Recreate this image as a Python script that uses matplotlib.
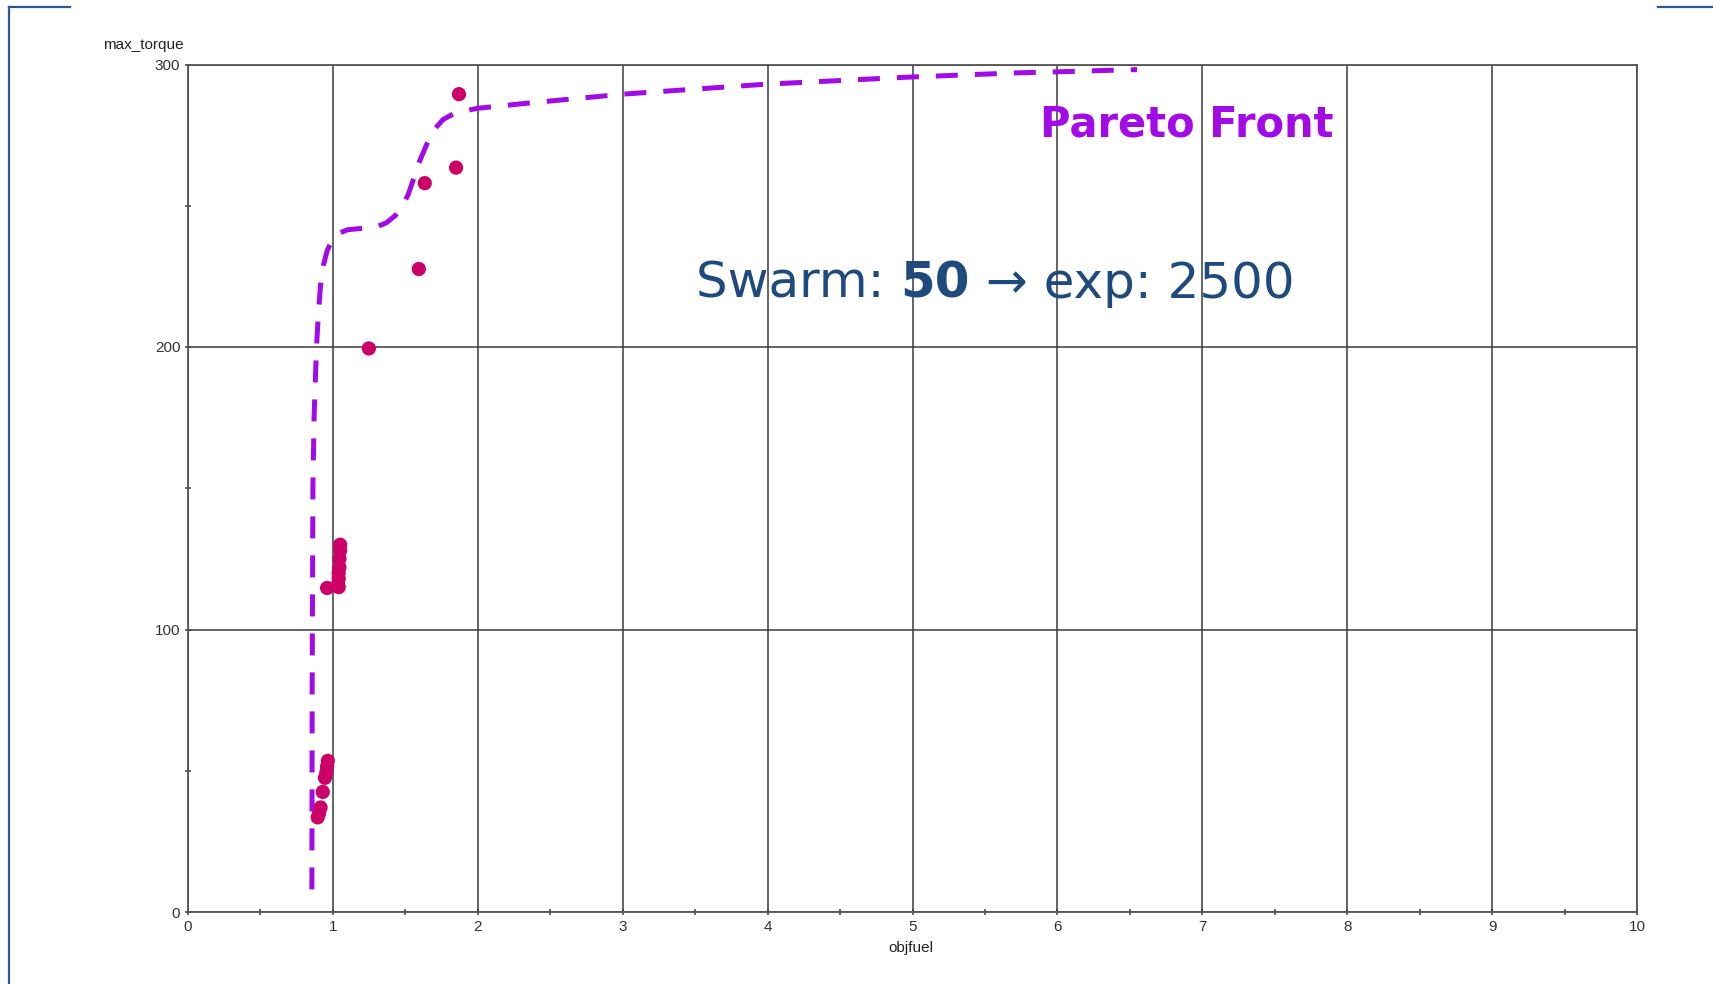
import matplotlib
matplotlib.use("Agg")
import matplotlib.pyplot as plt
from matplotlib.lines import Line2D
from matplotlib.ticker import MultipleLocator


# DATA
pts_fuel = [1.87, 1.85, 1.634, 1.593, 1.248,
            1.05, 1.05, 1.045, 1.045, 1.04, 1.04, 1.035, 1.04, 0.96,
            0.965, 0.96, 0.955, 0.945, 0.93, 0.915, 0.905, 0.895]
pts_torque = [289.5, 263.5, 258, 227.6, 199.5,
              130, 128, 125, 122, 120, 118, 116, 115, 114.7,
              53.5, 51.5, 49.5, 47.5, 42.5, 37, 35, 33.5]

front_fuel = [0.855, 0.857, 0.862, 0.87, 0.88, 0.887, 0.9, 0.915, 0.935, 0.96,
              0.99, 1.03, 1.1, 1.2, 1.3, 1.37, 1.43, 1.48, 1.52, 1.56, 1.6,
              1.65, 1.7, 1.76, 1.83, 1.9, 2.0, 2.36, 3.0, 3.98, 4.96, 5.7, 6.55]
front_torque = [8, 80, 150, 175, 190, 200, 212, 222, 229, 234,
                237.5, 240, 241.5, 242, 242.5, 244, 246.5, 250, 254, 260, 266,
                272, 277, 280.5, 282.5, 283.5, 284.5, 286.4, 289.5, 293, 295.5, 297, 298.2]

x_ticks = list(range(0, 11))
y_ticks = [0, 100, 200, 300]

W, H = 1713, 984
fig = plt.figure(figsize=(W / 100, H / 100), dpi=100)
ax = fig.add_axes([188 / W, 1 - 912 / H, (1637 - 188) / W, (912 - 64.5) / H])

#PLOTTING
ax.grid(True, color="#3a3a3a", linewidth=1.1)
ax.set_axisbelow(True)
front, = ax.plot(front_fuel, front_torque, color="#A30AE8", linewidth=3.6,
                 dash_capstyle="butt", zorder=3)
front.set_dashes([4.4, 3.4])
ax.scatter(pts_fuel, pts_torque, s=105, color="#CC0066", edgecolors="none", zorder=4)

ax.set_xlim(0, 10)
ax.set_ylim(0, 300)
ax.set_xticks(x_ticks)
ax.set_yticks(y_ticks)
ax.xaxis.set_minor_locator(MultipleLocator(0.5))
ax.yaxis.set_minor_locator(MultipleLocator(50))
ax.tick_params(which="both", direction="inout", color="#3a3a3a", width=1.1,
               labelsize=11, labelcolor="#333333")
ax.tick_params(which="major", length=5, pad=3)
ax.tick_params(which="minor", length=5)
for lab in ax.get_xticklabels() + ax.get_yticklabels():
    lab.set_family("Liberation Sans")
for sp in ax.spines.values():
    sp.set_color("#555555")
    sp.set_linewidth(1.3)

fig.text(143 / W, 1 - 45 / H, "max_torque", ha="center", va="center",
         fontsize=11, color="#222222", family="Liberation Sans")
fig.text(911 / W, 1 - 948 / H, "objfuel", ha="center", va="center",
         fontsize=11, color="#222222", family="Liberation Sans")

#ANNOTATIONS
fig.text(1040 / W, 1 - 137 / H, "Pareto Front", ha="left", va="baseline",
         fontsize=30, fontweight="bold", color="#A30AE8", family="DejaVu Sans")

blue = "#1F4A7E"
r = fig.canvas.get_renderer()
x0 = 696 / W
yb = 1 - 298 / H
parts = [("Swarm: ", "normal"), ("50", "bold"), (" \u2192 exp: 2500", "normal")]
for s, wt in parts:
    t = fig.text(x0, yb, s, ha="left", va="baseline", fontsize=36,
                 fontweight=wt, color=blue, family=["DejaVu Sans"])
    bb = t.get_window_extent(renderer=r)
    x0 = x0 + bb.width / W

# frame lines of the slide
frame = "#2F5597"
fig.add_artist(Line2D([9 / W, 9 / W], [0, 1 - 7 / H], color=frame, linewidth=1.6))
fig.add_artist(Line2D([9 / W, 70 / W], [1 - 7 / H, 1 - 7 / H], color=frame, linewidth=1.6))
fig.add_artist(Line2D([1658 / W, 1], [1 - 7 / H, 1 - 7 / H], color=frame, linewidth=1.6))

fig.savefig("out.png", dpi=100)
